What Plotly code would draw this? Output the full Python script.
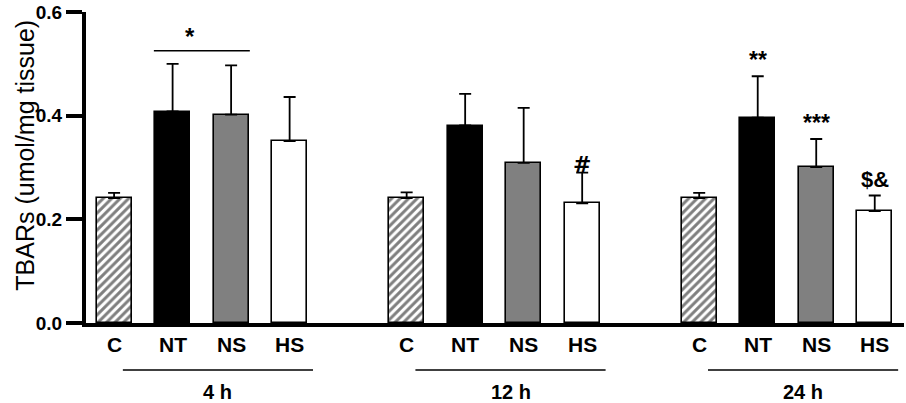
import plotly.graph_objects as go

# ---- data ----
groups = ["4 h", "12 h", "24 h"]
treatments = ["C", "NT", "NS", "HS"]
values_4h = [0.241, 0.408, 0.402, 0.351]
values_12h = [0.241, 0.381, 0.309, 0.231]
values_24h = [0.241, 0.396, 0.301, 0.216]
err_4h = [0.010, 0.092, 0.095, 0.085]
err_12h = [0.011, 0.061, 0.106, 0.059]
err_24h = [0.010, 0.080, 0.054, 0.030]
y_ticks = [0.0, 0.2, 0.4, 0.6]
sig_4h = "*"
sig_24h = ["**", "***", "$&"]
sig_12h = "#"
y_title = "TBARs (umol/mg tissue)"

all_vals = [values_4h, values_12h, values_24h]
all_errs = [err_4h, err_12h, err_24h]

# styles per treatment
fills = {"C": "white", "NT": "black", "NS": "#808080", "HS": "white"}
FONT = "Liberation Sans, Arial, sans-serif"

fig = go.Figure()

xpos = {}
for g, grp in enumerate(groups):
    for i, t in enumerate(treatments):
        xpos[(g, i)] = g * 5 + i

for i, t in enumerate(treatments):
    xs = [xpos[(g, i)] for g in range(len(groups))]
    ys = [all_vals[g][i] for g in range(len(groups))]
    es = [all_errs[g][i] for g in range(len(groups))]
    marker = dict(color=fills[t], line=dict(color="black", width=1.6))
    if t == "C":
        marker["pattern"] = dict(shape="/", fgcolor="black", bgcolor="white",
                                 size=6, solidity=0.5)
    fig.add_trace(go.Bar(
        x=xs, y=ys, width=0.6, marker=marker, name=t, showlegend=False,
        error_y=dict(type="data", array=es, arrayminus=[0] * len(es),
                     symmetric=False, color="black", thickness=1.8, width=6),
    ))

annotations = []
shapes = []
# category labels
for g in range(len(groups)):
    for i, t in enumerate(treatments):
        annotations.append(dict(x=xpos[(g, i)], y=-0.069, xref="x", yref="paper",
                                xanchor="center", yanchor="middle",
                                text="<b>%s</b>" % t, showarrow=False,
                                font=dict(family=FONT, size=21, color="black")))
# group underlines and labels
for g, grp in enumerate(groups):
    x0 = xpos[(g, 0)] + 0.15
    x1 = xpos[(g, 3)] + 0.4
    shapes.append(dict(type="line", xref="x", yref="paper", x0=x0, x1=x1,
                       y0=-0.151, y1=-0.151, line=dict(color="black", width=1.5)))
    annotations.append(dict(x=(x0 + x1) / 2, y=-0.222, xref="x", yref="paper",
                            xanchor="center", yanchor="middle",
                            text="<b>%s</b>" % grp, showarrow=False,
                            font=dict(family=FONT, size=20, color="black")))

# y-axis title
annotations.append(dict(x=-0.075, y=0.54, xref="paper", yref="paper",
                        xanchor="center", yanchor="middle", textangle=-90,
                        text=y_title, showarrow=False,
                        font=dict(family=FONT, size=25, color="black")))

# significance marks
shapes.append(dict(type="line", xref="x", yref="y", x0=xpos[(0, 1)] - 0.32,
                   x1=xpos[(0, 2)] + 0.32, y0=0.525, y1=0.525,
                   line=dict(color="black", width=1.5)))
annotations.append(dict(x=(xpos[(0, 1)] + xpos[(0, 2)]) / 2 - 0.2, y=0.525,
                        yshift=14, xref="x", yref="y", yanchor="middle",
                        text="<b>%s</b>" % sig_4h, showarrow=False,
                        font=dict(family=FONT, size=24, color="black")))
annotations.append(dict(x=xpos[(1, 3)], y=values_12h[3] + err_12h[3],
                        xref="x", yref="y", yshift=9, yanchor="middle",
                        text="<b>%s</b>" % sig_12h, showarrow=False,
                        font=dict(family="DejaVu Serif", size=22, color="black")))
for k, s in enumerate(sig_24h):
    i = k + 1
    annotations.append(dict(x=xpos[(2, i)], y=values_24h[i] + err_24h[i],
                            xref="x", yref="y", yshift=16, yanchor="middle",
                            text="<b>%s</b>" % s, showarrow=False,
                            font=dict(family=FONT, size=23 if i < 3 else 22,
                                      color="black")))

fig.update_layout(
    width=906, height=403,
    margin=dict(l=86, r=2, t=6, b=80),
    plot_bgcolor="white", paper_bgcolor="white",
    bargap=0, barmode="overlay",
    shapes=shapes, annotations=annotations,
    font=dict(family=FONT, color="black"),
)
fig.update_xaxes(
    range=[-0.48, 13.5], showticklabels=False,
    showline=True, linecolor="black", linewidth=4, ticks="",
    showgrid=False, zeroline=False,
)
fig.update_yaxes(
    range=[0, 0.6], tickvals=y_ticks, ticktext=["<b>%.1f</b>" % v for v in y_ticks],
    showline=True, linecolor="black", linewidth=4, ticks="outside",
    ticklen=16, tickwidth=4, tickcolor="black",
    showgrid=False, zeroline=False, ticklabeloverflow="allow",
    tickfont=dict(family=FONT, size=19, color="black"),
)

fig.write_html("out.html")
